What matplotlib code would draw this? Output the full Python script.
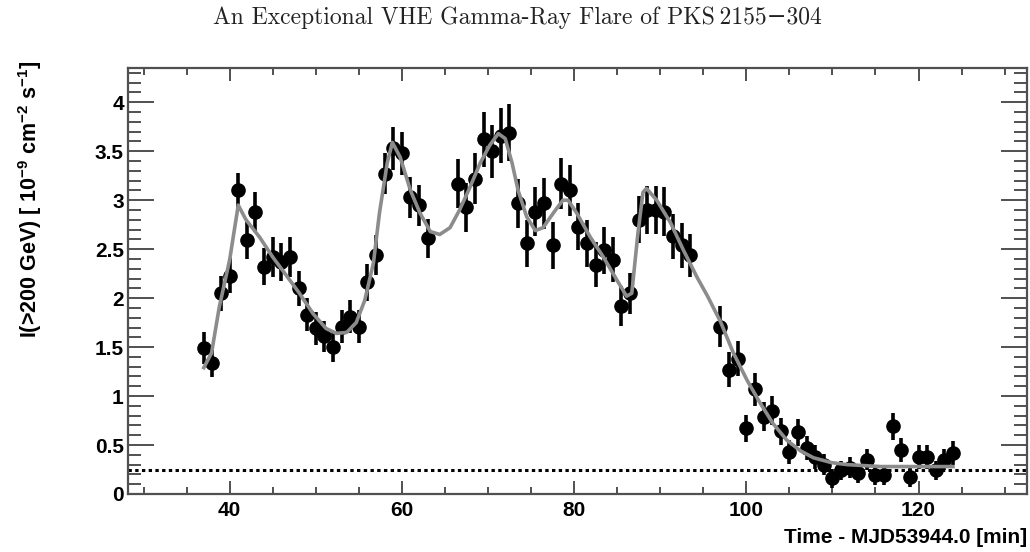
import matplotlib
matplotlib.use("Agg")
import matplotlib.pyplot as plt
from matplotlib.ticker import MultipleLocator

plt.rcParams["font.family"] = ["Liberation Sans", "DejaVu Sans"]
plt.rcParams["font.weight"] = "bold"
plt.rcParams["mathtext.fontset"] = "custom"
plt.rcParams["mathtext.rm"] = "Liberation Sans:bold"
plt.rcParams["mathtext.bf"] = "Liberation Sans:bold"
plt.rcParams["mathtext.default"] = "rm"

# 1-min binned flux, three observation runs
run1_t = [37, 38, 39, 40, 41, 42, 43, 44, 45, 46, 47, 48, 49, 50, 51, 52, 53,
          54, 55, 56, 57, 58, 59, 60, 61, 62, 63]
run1_flux = [1.49, 1.34, 2.05, 2.23, 3.10, 2.59, 2.88, 2.32, 2.42, 2.37, 2.42,
             2.10, 1.83, 1.69, 1.61, 1.50, 1.71, 1.81, 1.71, 2.16, 2.44, 3.27,
             3.53, 3.48, 3.03, 2.95, 2.61]
run1_err = [0.16, 0.15, 0.18, 0.18, 0.18, 0.19, 0.20, 0.19, 0.20, 0.19, 0.20,
            0.18, 0.17, 0.17, 0.16, 0.15, 0.17, 0.17, 0.17, 0.19, 0.20, 0.21,
            0.22, 0.22, 0.21, 0.21, 0.20]

run2_t = [66.5, 67.5, 68.5, 69.5, 70.5, 71.5, 72.5, 73.5, 74.5, 75.5, 76.5,
          77.5, 78.5, 79.5, 80.5, 81.5, 82.5, 83.5, 84.5, 85.5, 86.5, 87.5,
          88.5, 89.5, 90.5, 91.5, 92.5, 93.5]
run2_flux = [3.17, 2.93, 3.22, 3.62, 3.50, 3.66, 3.69, 2.97, 2.56, 2.88, 2.97,
             2.54, 3.17, 3.10, 2.73, 2.56, 2.34, 2.49, 2.39, 1.92, 2.05, 2.80,
             2.90, 2.90, 2.88, 2.63, 2.54, 2.44]
run2_err = [0.25, 0.25, 0.26, 0.28, 0.27, 0.28, 0.29, 0.25, 0.24, 0.25, 0.26,
            0.24, 0.26, 0.26, 0.24, 0.24, 0.23, 0.24, 0.23, 0.20, 0.21, 0.24,
            0.25, 0.25, 0.25, 0.23, 0.23, 0.22]

run3_t = [97, 98, 99, 100, 101, 102, 103, 104, 105, 106, 107, 108, 109, 110,
          111, 112, 113, 114, 115, 116, 117, 118, 119, 120, 121, 122, 123, 124]
run3_flux = [1.71, 1.27, 1.38, 0.67, 1.07, 0.79, 0.85, 0.64, 0.43, 0.63, 0.47,
             0.38, 0.30, 0.16, 0.24, 0.27, 0.21, 0.35, 0.19, 0.19, 0.69, 0.45,
             0.17, 0.38, 0.38, 0.24, 0.35, 0.42]
run3_err = [0.21, 0.18, 0.18, 0.14, 0.17, 0.15, 0.15, 0.14, 0.12, 0.14, 0.12,
            0.12, 0.11, 0.10, 0.10, 0.11, 0.10, 0.11, 0.10, 0.10, 0.14, 0.12,
            0.10, 0.12, 0.12, 0.10, 0.11, 0.12]

# burst-model fit, sampled along the curve
fit_t = [37.0, 37.9, 38.8, 40.0, 41.0, 41.9, 43.5, 45.0, 46.6, 48.1, 49.7,
         51.2, 52.4, 53.6, 54.7, 55.7, 56.7, 57.4, 58.3, 58.9, 59.8, 61.0,
         62.1, 63.3, 64.4, 65.6, 66.7, 67.9, 69.1, 70.2, 71.2, 72.0, 72.8,
         73.5, 74.5, 75.5, 76.4, 77.6, 78.7, 79.3, 80.3, 81.9, 83.4, 85.0,
         86.1, 86.7, 87.4, 88.0, 88.4, 89.6, 91.2, 92.7, 94.3, 95.5, 97.0,
         98.5, 100.1, 101.6, 103.1, 104.7, 106.3, 107.8, 109.9, 111.7, 115.6,
         119.4, 124.0]
fit_flux = [1.29, 1.44, 1.91, 2.39, 2.95, 2.80, 2.62, 2.42, 2.23, 2.05, 1.84,
            1.69, 1.64, 1.65, 1.75, 1.98, 2.36, 2.87, 3.38, 3.59, 3.44, 3.10,
            2.87, 2.68, 2.65, 2.72, 2.90, 3.13, 3.38, 3.56, 3.68, 3.63, 3.38,
            3.10, 2.83, 2.69, 2.72, 2.87, 3.00, 3.00, 2.87, 2.62, 2.42, 2.18,
            2.02, 2.05, 2.65, 3.08, 3.12, 3.00, 2.77, 2.49, 2.21, 2.02, 1.76,
            1.44, 1.16, 0.93, 0.72, 0.55, 0.44, 0.37, 0.32, 0.30, 0.28,
            0.28, 0.28]

crab_flux = 0.25

fig = plt.figure(figsize=(10.3, 5.52), dpi=100)
ax = fig.add_axes([0.1243, 0.1051, 0.8728, 0.7717])

for t, f, e in [(run1_t, run1_flux, run1_err),
                (run2_t, run2_flux, run2_err),
                (run3_t, run3_flux, run3_err)]:
    ax.errorbar(t, f, yerr=e, fmt="o", color="black", markersize=9.5,
                elinewidth=2.6, capsize=0, zorder=3)

ax.plot(fit_t, fit_flux, color="#8c8c8c", lw=2.6, zorder=4)
ax.axhline(crab_flux, color="black", lw=2.2, linestyle=(0, (1.1, 1.1)), zorder=2)

ax.set_xlim(28.2, 132.6)
ax.set_ylim(0, 4.35)

ax.xaxis.set_major_locator(MultipleLocator(20))
ax.xaxis.set_minor_locator(MultipleLocator(5))
ax.yaxis.set_major_locator(MultipleLocator(0.5))
ax.yaxis.set_minor_locator(MultipleLocator(0.1))
ax.yaxis.set_major_formatter(lambda v, pos: f"{v:g}")

frame_col = "#505050"
for sp in ax.spines.values():
    sp.set_color(frame_col)
    sp.set_linewidth(1.6)

ax.tick_params(axis="both", which="both", direction="in", color=frame_col,
               width=1.4, top=True, right=True, labelsize=15)
ax.tick_params(axis="x", which="major", length=9.5, pad=5)
ax.tick_params(axis="x", which="minor", length=5)
ax.tick_params(axis="y", which="major", length=19, pad=3)
ax.tick_params(axis="y", which="minor", length=9.5)

fig.text(0.997, 0.027, "Time - MJD53944.0 [min]", ha="right", va="center",
         fontsize=15, fontweight="bold")
fig.text(0.029, 0.89,
         r"I(>200 GeV) [ 10$^{-9}$ cm$^{-2}$ s$^{-1}$]",
         rotation=90, ha="center", va="top", fontsize=15.5, fontweight="bold")

fig.text(0.502, 0.967, "An Exceptional VHE Gamma-Ray Flare of PKS\u20092155\u2212304",
         ha="center", va="center", fontsize=17, fontweight="normal",
         family=["cmr10", "DejaVu Serif"], color="#222222")

fig.savefig("out.png", dpi=100)
